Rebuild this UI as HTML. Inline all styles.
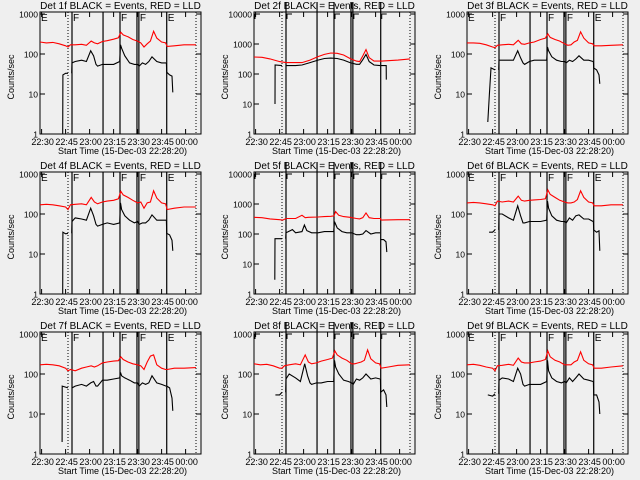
<!DOCTYPE html>
<html><head><meta charset="utf-8"><style>
html,body{margin:0;padding:0;background:#efefef;}
svg{display:block;font-family:"Liberation Sans",sans-serif;}
</style></head><body>
<svg id="c" width="640" height="480" viewBox="0 0 640 480">
<rect width="640" height="480" fill="#efefef"/>
</svg>
<script>
// shared time knots (minutes since 22:29)
const redTimes=[0,4,8,12,16,17.5,19,22,26,29,32,34,36,39,42,46,49,50.5,52,55,58,61,63,65,67,69,71,73,76,78.5,79.5,84,90,97.5];
const blackTimesB=[19.8,20,22,26,29,31.7,33.5,35,36,39,42,46,49.8,50.3,51,53,56,59,61,62,64,66,68,70,73,76,78.8];
const blackTimesC=[79,79.2,81,82.5,83];
const xTickLabels=["22:30","22:45","23:00","23:15","23:30","23:45","00:00"];
const xTickTimes=[1,16,31,46,61,76,91];
const solidLines=[20,39.4,50,60.6,61.8,79.2];
const dottedLines=[17.5,97.5];
const detNames=["1f","2f","3f","4f","5f","6f","7f","8f","9f"];
const decades=[3,4,3,3,4,3,3,3,3];

const p1Red=[200,190,195,180,160,150,170,170,175,165,210,190,180,205,215,235,255,350,300,270,230,210,190,150,180,210,370,250,200,190,155,160,170,170];
const p1BlackAT=[14.2,14.3,16,17.5]; const p1BlackA=[1,30,33,33];
const p1BlackB=[33,60,65,70,65,120,90,55,50,55,55,55,65,170,140,90,60,55,55,50,60,55,65,85,65,60,60];
const p1BlackC=[60,35,30,28,11];

const p2RedT=[0,5,10,16,20,26,30,35,40,44,48,52,56,60,64,66,68,70,72,75,80,90,97.5];
const p2Red=[370,360,320,260,240,240,240,290,380,450,500,490,430,330,270,260,400,650,350,270,270,290,320];
const p2BlackAT=[13.1,13.2,17.5]; const p2BlackA=[10,200,190];
const p2BlackBT=[19.8,20,26,30,35,40,44,48,52,56,60,64,66,68,70,72,75,78.8];
const p2BlackB=[190,190,190,200,240,290,330,340,330,290,240,210,210,300,450,260,200,190];
const p2BlackCT=[79,81,82.6,82.7]; const p2BlackC=[190,190,190,65];

const p3Red=[190,190,185,170,150,145,165,170,175,170,220,180,175,190,200,230,250,320,260,230,210,180,165,170,200,220,360,250,190,180,160,160,165,170];
const p3BlackAT=[13,14,15,17.5]; const p3BlackA=[2,10,45,40];
const p3BlackB=[40,70,70,70,70,120,80,60,55,65,70,70,70,150,120,85,70,65,65,60,70,65,75,90,70,70,65];
const p3BlackC=[65,45,40,30,18];

const p4Red=[170,175,170,160,150,130,170,175,180,170,260,200,180,200,210,220,240,370,300,260,220,190,200,140,190,200,380,250,190,180,130,140,150,150];
const p4BlackAT=[14.2,14.3,16,17.5]; const p4BlackA=[1,35,32,33];
const p4BlackB=[33,65,80,75,70,140,90,55,50,55,60,55,60,190,130,90,70,60,65,55,60,60,70,95,70,70,70];
const p4BlackC=[70,33,30,22,12];

const p5RedT=[0,5,10,16,18,20,26,30,32,34,40,44,48,50,51,53,56,60,64,66,68,70,72,75,79,79.5,90,97.5];
const p5Red=[360,350,320,300,290,330,330,420,350,360,370,380,390,400,560,420,380,360,330,320,350,500,350,330,330,290,300,300];
const p5BlackAT=[13,13.1,17.5]; const p5BlackA=[3,70,70];
const p5BlackBT=[19.8,20,24,26,30,31.5,33,36,40,44,48,49.8,50.3,52,55,58,61,64,66,68,70,73,76,78.8];
const p5BlackB=[70,110,140,110,120,200,130,110,110,120,120,120,260,160,120,110,110,95,95,100,130,100,110,110];
const p5BlackCT=[79,81,82.5,83]; const p5BlackC=[65,65,55,25];

const p6Red=[190,195,190,180,170,160,210,200,210,200,280,220,210,220,225,230,240,400,310,260,220,200,190,190,200,230,380,260,200,190,160,160,170,170];
const p6BlackAT=[13.8,16,17.5]; const p6BlackA=[35,35,40];
const p6BlackB=[40,100,100,80,70,160,90,60,60,65,65,65,70,210,140,90,70,65,65,60,80,70,90,95,75,75,65];
const p6BlackC=[65,40,35,38,12];

const p7Red=[170,175,170,160,140,120,130,120,140,150,160,150,160,190,200,210,215,270,230,200,180,170,160,130,200,280,300,170,140,130,130,140,140,145];
const p7BlackAT=[13.8,13.9,17.5]; const p7BlackA=[2,50,45];
const p7BlackB=[45,45,50,55,50,60,65,50,50,70,70,75,80,110,90,80,70,60,60,50,60,55,60,90,60,55,50];
const p7BlackC=[50,50,45,25,12];

const p8Red=[180,170,175,160,140,140,160,170,180,170,300,200,180,190,210,230,250,380,300,250,220,180,180,190,200,220,400,240,190,180,140,150,165,170];
const p8BlackAT=[13.4,16,17.5]; const p8BlackA=[30,30,35];
const p8BlackB=[35,75,100,80,65,180,90,60,55,60,60,65,65,220,150,100,70,65,60,55,75,70,80,100,75,80,75];
const p8BlackC=[75,35,40,30,15];

const p9Red=[170,175,165,150,140,120,160,165,175,165,250,200,190,190,200,210,230,380,270,220,200,170,170,170,200,220,360,220,180,170,140,140,150,160];
const p9BlackAT=[13,16,17.5]; const p9BlackA=[30,28,32];
const p9BlackB=[32,70,80,75,65,140,100,55,50,55,55,55,65,220,120,80,65,60,65,60,80,65,80,100,75,70,65];
const p9BlackC=[65,30,30,20,10];

const panelData=[
 {rt:redTimes,r:p1Red,at:p1BlackAT,a:p1BlackA,bt:blackTimesB,b:p1BlackB,ct:blackTimesC,c:p1BlackC},
 {rt:p2RedT,r:p2Red,at:p2BlackAT,a:p2BlackA,bt:p2BlackBT,b:p2BlackB,ct:p2BlackCT,c:p2BlackC},
 {rt:redTimes,r:p3Red,at:p3BlackAT,a:p3BlackA,bt:blackTimesB,b:p3BlackB,ct:blackTimesC,c:p3BlackC},
 {rt:redTimes,r:p4Red,at:p4BlackAT,a:p4BlackA,bt:blackTimesB,b:p4BlackB,ct:blackTimesC,c:p4BlackC},
 {rt:p5RedT,r:p5Red,at:p5BlackAT,a:p5BlackA,bt:p5BlackBT,b:p5BlackB,ct:p5BlackCT,c:p5BlackC},
 {rt:redTimes,r:p6Red,at:p6BlackAT,a:p6BlackA,bt:blackTimesB,b:p6BlackB,ct:blackTimesC,c:p6BlackC},
 {rt:redTimes,r:p7Red,at:p7BlackAT,a:p7BlackA,bt:blackTimesB,b:p7BlackB,ct:blackTimesC,c:p7BlackC},
 {rt:redTimes,r:p8Red,at:p8BlackAT,a:p8BlackA,bt:blackTimesB,b:p8BlackB,ct:blackTimesC,c:p8BlackC},
 {rt:redTimes,r:p9Red,at:p9BlackAT,a:p9BlackA,bt:blackTimesB,b:p9BlackB,ct:blackTimesC,c:p9BlackC}
];

const NS="http://www.w3.org/2000/svg";
const svg=document.getElementById('c');
function mk(tag,attrs,parent,text){const e=document.createElementNS(NS,tag);for(const k in attrs)e.setAttribute(k,attrs[k]);if(text!==undefined)e.textContent=text;parent.appendChild(e);return e;}
const lefts=[40,254,467], tops=[12,172,332], W=161, H=122;

panelData.forEach((d,i)=>{
  const L=lefts[i%3], T=tops[Math.floor(i/3)], dec=decades[i];
  const perDec=(H-3)/dec, ymax=dec+2/perDec;
  const g=mk('g',{},svg);
  
  
  const xs=t=>L+t*1.6;
  const ys=v=>T+H-Math.log10(Math.max(v,1))*(H/ymax);
  const ti=mk('text',{x:L+W/2,y:T-3,'font-size':10,'text-anchor':'middle',fill:'#000'},g,'Det '+detNames[i]+' BLACK = Events, RED = LLD');
  
  
  const bx=mk('rect',{x:L,y:T,width:W,height:H,fill:'none',stroke:'#000','stroke-width':1},g);
  
  
  for(let k=0;k<=dec;k++){
    const y=ys(Math.pow(10,k));
    mk('line',{x1:L,x2:L+5,y1:y,y2:y,stroke:'#000'},g);
    mk('line',{x1:L+W-5,x2:L+W,y1:y,y2:y,stroke:'#000'},g);
    const yl=mk('text',{x:L-2,y:y+3.5,'font-size':8.5,'text-anchor':'end'},g,String(Math.pow(10,k)));
    
    
  }
  const yt=mk('text',{x:0,y:0,'font-size':9,'text-anchor':'middle',transform:`translate(${L-26},${T+65}) rotate(-90)`},g,'Counts/sec');
  
  
  xTickTimes.forEach((t,k)=>{
    const x=xs(t);
    mk('line',{x1:x,x2:x,y1:T+H,y2:T+H-5,stroke:'#000'},g);
    mk('line',{x1:x,x2:x,y1:T,y2:T+5,stroke:'#000'},g);
    const xl=mk('text',{x:x+1,y:T+H+11,'font-size':9,'text-anchor':'middle'},g,xTickLabels[k]);
    
    
  });
  const xt=mk('text',{x:L+W/2+2,y:T+H+20,'font-size':9,'text-anchor':'middle'},g,'Start Time (15-Dec-03 22:28:20)');
  
  
  solidLines.forEach(t=>{
    const ln=mk('line',{x1:xs(t),x2:xs(t),y1:(i%3===1?T-10:T),y2:T+H,stroke:'#000','stroke-width':1.2},g);
    
    
  });
  dottedLines.forEach(t=>{
    const ln=mk('line',{x1:xs(t),x2:xs(t),y1:T,y2:T+H,stroke:'#000','stroke-dasharray':'1,2'},g);
    
    
  });
  const marks=[[0,'E'],[20,'F'],[50,'F'],[61.8,'F'],[79.2,'E']];
  marks.forEach(([t,s])=>{
    if(i%3===1){
      mk('path',{d:`M${xs(t)+1},${T+7}V${T+2}H${xs(t)+6}`,fill:'none',stroke:'#000'},g);
    } else {
      const mt=mk('text',{x:xs(t)+1,y:T+9,'font-size':10},g,s);
      
      
    }
  });
  function poly(ts,vs,col,name){
    const p=mk('polyline',{points:ts.map((t,k)=>xs(t).toFixed(1)+','+ys(vs[k]).toFixed(1)).join(' '),fill:'none',stroke:col,'stroke-width':1.1},g);
    
    
  }
  poly(d.rt,d.r,'#ff0000','lld-series-red');
  poly(d.at,d.a,'#000','events-series-pre');
  poly(d.bt,d.b,'#000','events-series-main');
  poly(d.ct,d.c,'#000','events-series-post');
});
</script>
</body></html>
